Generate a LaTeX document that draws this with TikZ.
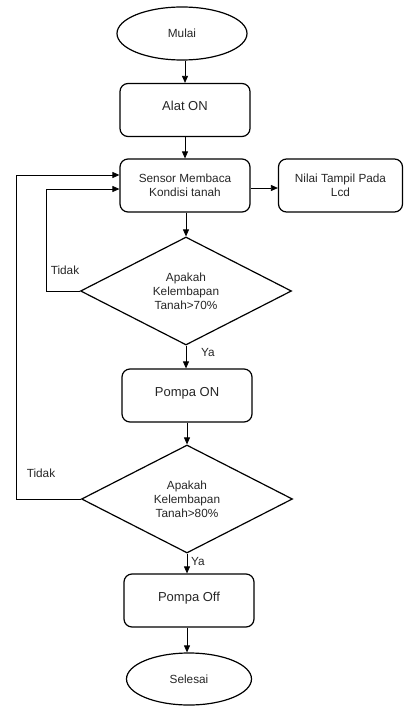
\documentclass[tikz,border=0pt]{standalone}
\usepackage{fontspec}
\setmainfont{Liberation Sans}
\usetikzlibrary{shapes.geometric,arrows.meta}
\tikzset{
  base/.style={draw=black, line width=1.2pt, inner sep=0pt, text=black!85, align=center,
    font=\fontsize{11.8}{14}\selectfont},
  term/.style={base, ellipse},
  procbox/.style={base, rectangle, rounded corners=8pt, minimum width=130pt, minimum height=53pt},
  bigtext/.style={font=\fontsize{13}{15}\selectfont},
  decide/.style={base, diamond, shape aspect=2, minimum width=211pt, minimum height=108pt},
  arr/.style={draw=black, line width=0.8pt, -{Triangle[length=7pt,width=6pt]}},
  lbl/.style={text=black!85, font=\fontsize{11.8}{13}\selectfont, inner sep=0pt}
}
\begin{document}
\begin{tikzpicture}[x=1pt,y=-1pt]
\useasboundingbox (0,0) rectangle (404,706);
\node[term, minimum width=130pt, minimum height=53pt] (mulai) at (182,33.5) {Mulai};
\node[procbox, bigtext] (alat) at (185,110) {\raisebox{8pt}{Alat ON}};
\node[procbox] (sensor) at (185,185.5) {Sensor Membaca\\Kondisi tanah};
\node[procbox, minimum width=124pt] (nilai) at (340.5,185.5) {Nilai Tampil Pada\\Lcd};
\node[decide] (d1) at (186,291) {Apakah\\Kelembapan\\Tanah>70\%};
\node[procbox, bigtext] (pompaon) at (187,395.5) {\raisebox{8pt}{Pompa ON}};
\node[decide] (d2) at (187,499) {Apakah\\Kelembapan\\Tanah>80\%};
\node[procbox, bigtext] (pompaoff) at (189,600.5) {\raisebox{8pt}{Pompa Off}};
\node[term, minimum width=125pt, minimum height=52pt] (selesai) at (189,679) {Selesai};

\draw[arr] (mulai.south -| alat.north) -- (alat.north);
\draw[arr] (alat.south) -- (sensor.north);
\draw[arr] (sensor.south -| d1.north) -- (d1.north);
\draw[arr] (sensor.east |- 0,188) -- (nilai.west |- 0,188);
\draw[arr] (d1.south) -- (d1.south |- pompaon.north);
\draw[arr] (pompaon.south -| d2.north) -- (d2.north);
\draw[arr] (d2.south) -- (d2.south |- pompaoff.north);
\draw[arr] (pompaoff.south -| d2.south) -- (d2.south |- selesai.north);

\coordinate (l1) at (46,0);
\coordinate (l2) at (16,0);
\draw[arr] (d1.west) -- (d1.west -| l1) |- ([yshift=-3.5pt]sensor.west);
\draw[arr] (d2.west) -- (d2.west -| l2) |- ([yshift=10.5pt]sensor.west);

\node[lbl] (t1) at (65,270) {Tidak};
\node[lbl] (t2) at (41,473) {Tidak};
\node[lbl] (y1) at (208,352.5) {Ya};
\node[lbl] (y2) at (198,561.5) {Ya};
\end{tikzpicture}
\end{document}
